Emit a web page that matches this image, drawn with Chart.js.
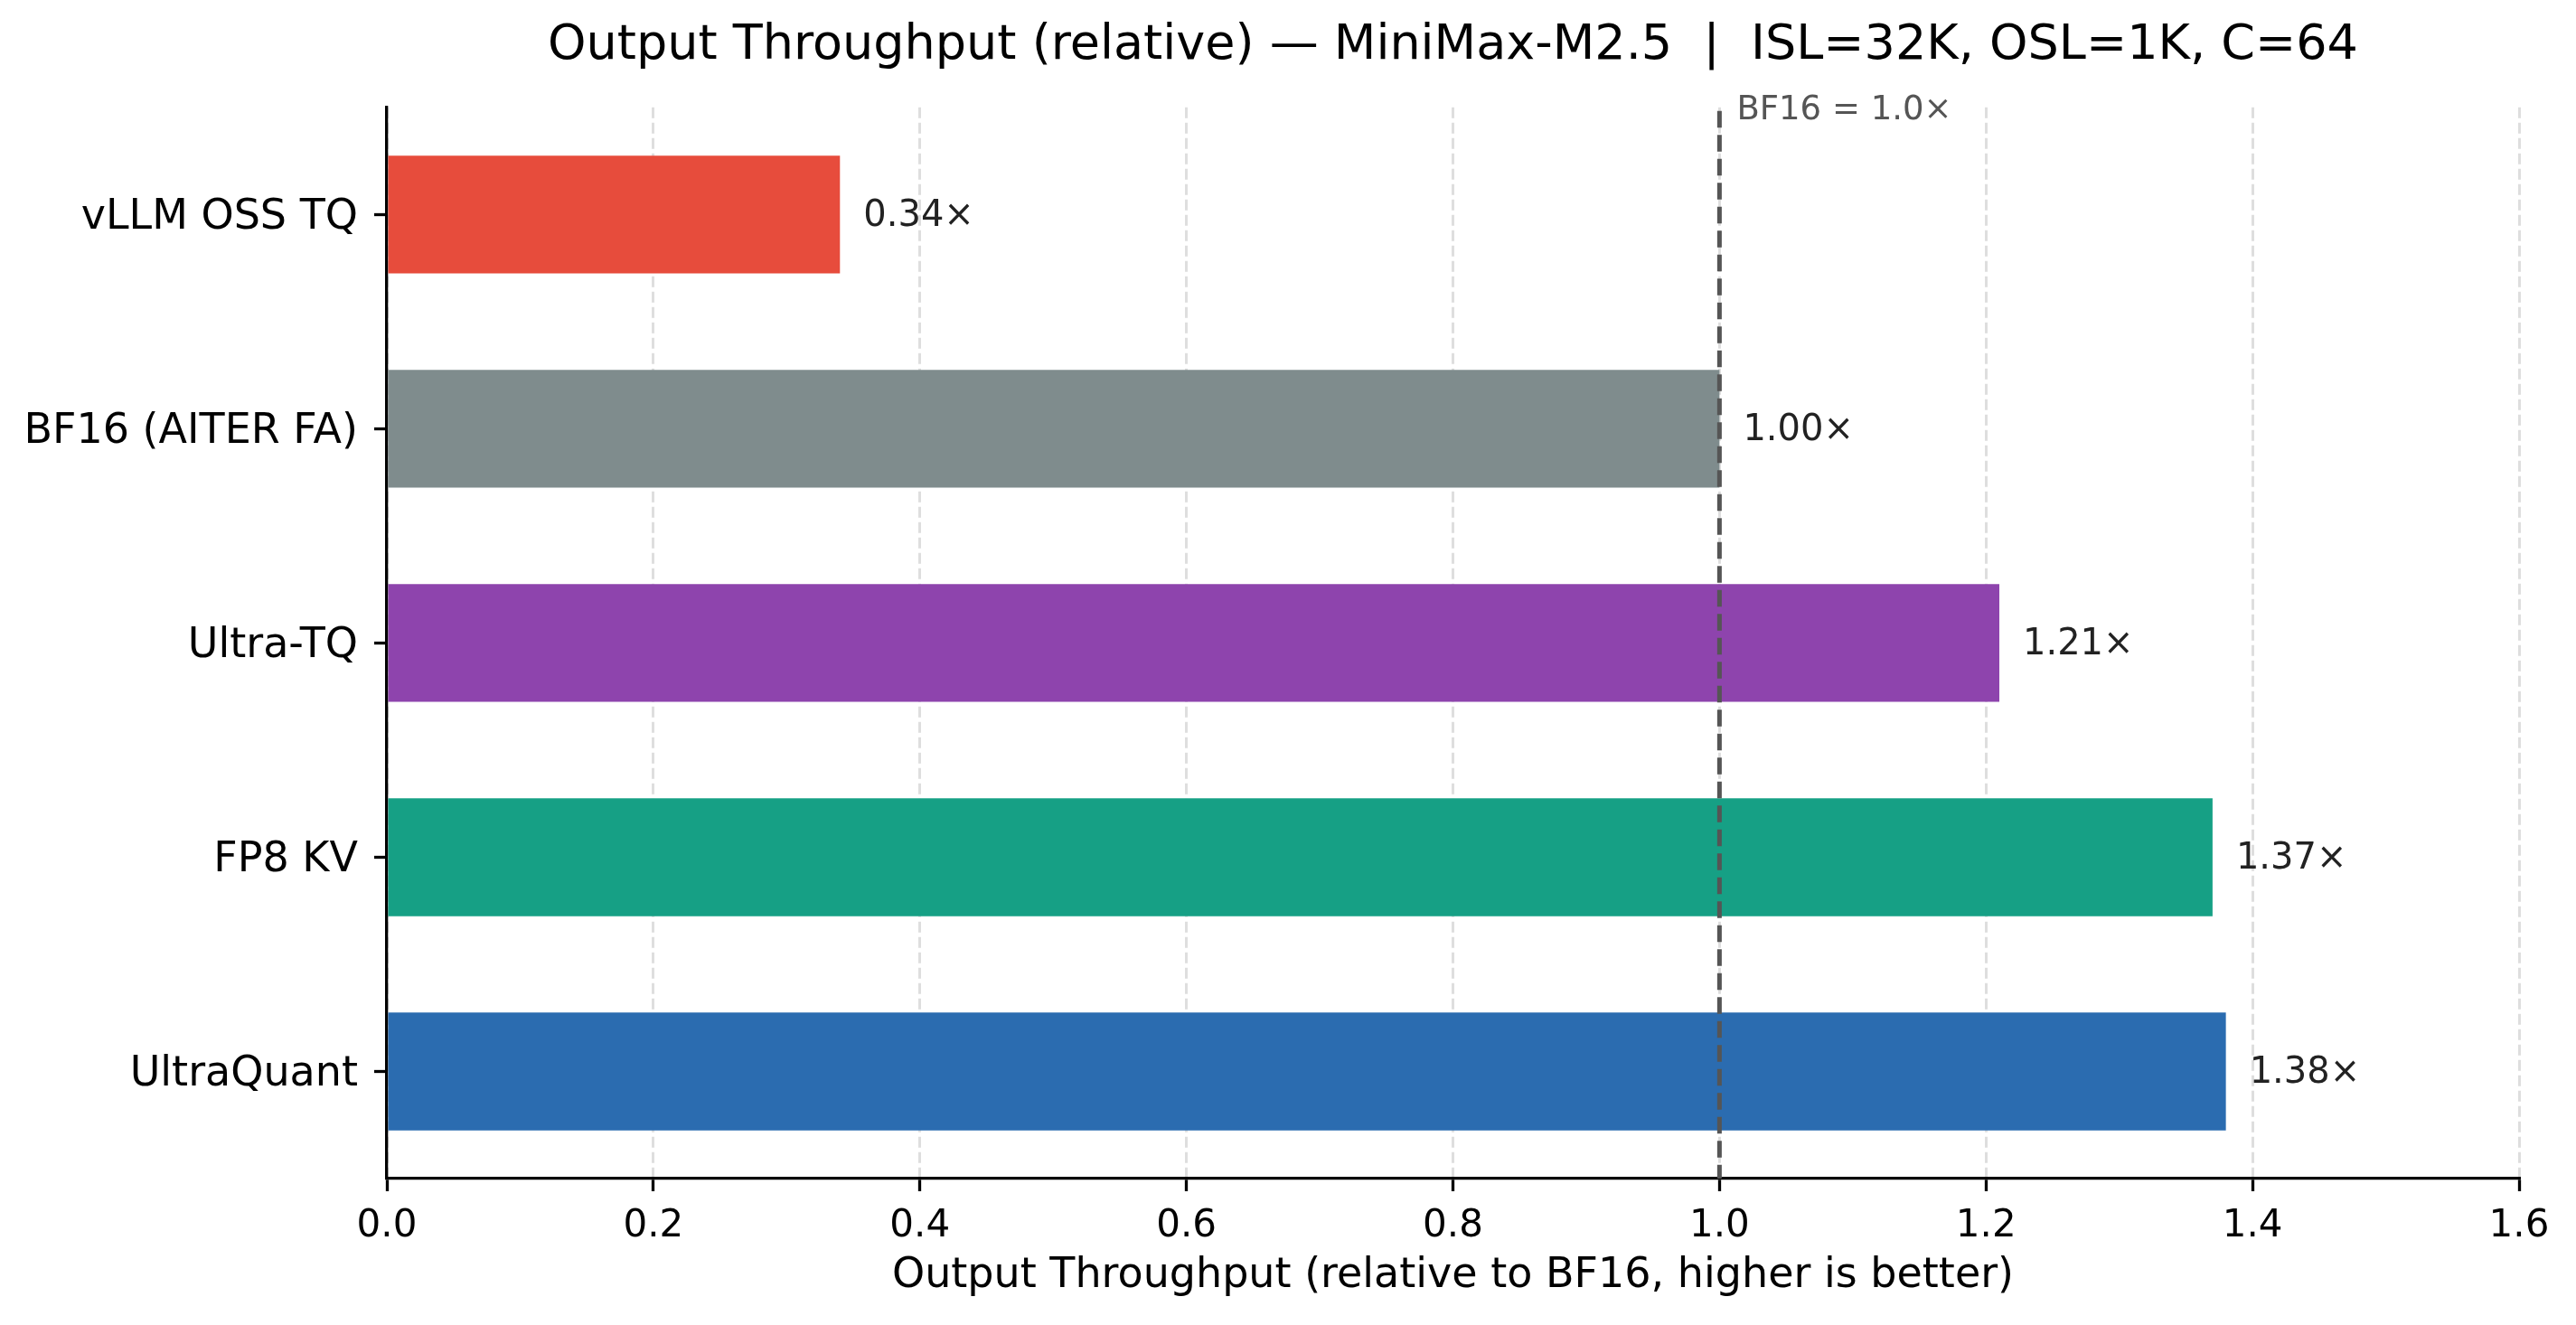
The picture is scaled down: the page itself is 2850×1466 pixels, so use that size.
<!DOCTYPE html>
<html>
<head>
<meta charset="utf-8">
<script src="https://cdn.jsdelivr.net/npm/chart.js@4.4.1/dist/chart.umd.min.js"></script>
<style>
  html, body { margin: 0; padding: 0; background: #fff; }
  canvas { display: block; }
</style>
</head>
<body>
<canvas id="chart" width="2850" height="1466"></canvas>
<script>
// data
const categories = ["vLLM OSS TQ", "BF16 (AITER FA)", "Ultra-TQ", "FP8 KV", "UltraQuant"];
const throughput = [0.34, 1.00, 1.21, 1.37, 1.38];
const barColors = ["#E74C3C", "#7F8C8D", "#8E44AD", "#16A085", "#2B6CB0"];
const xTicks = [0.0, 0.2, 0.4, 0.6, 0.8, 1.0, 1.2, 1.4, 1.6];
const baseline = 1.0;
const baselineLabel = "BF16 = 1.0×";

Chart.defaults.font.family = "'DejaVu Sans', sans-serif";
Chart.defaults.color = "#000";

// value labels at the bar ends + the dashed BF16 line
const annotations = {
    id: "annotations",
    afterDatasetsDraw(chart) {
        const ctx = chart.ctx;
        const area = chart.chartArea;
        const xs = chart.scales.x;

        const meta = chart.getDatasetMeta(0);
        ctx.save();
        ctx.font = "40px 'DejaVu Sans'";
        ctx.fillStyle = "#222";
        ctx.textAlign = "left";
        ctx.textBaseline = "middle";
        meta.data.forEach((bar, i) => {
            ctx.fillText(throughput[i].toFixed(2) + "×", bar.x + 26, bar.y + 2);
        });

        const bx = xs.getPixelForValue(baseline);
        ctx.strokeStyle = "#555";
        ctx.lineWidth = 5;
        ctx.setLineDash([18.5, 8]);
        ctx.beginPath();
        ctx.moveTo(bx, area.top + 4);
        ctx.lineTo(bx, area.bottom);
        ctx.stroke();

        ctx.setLineDash([]);
        ctx.font = "37px 'DejaVu Sans'";
        ctx.fillStyle = "#555";
        ctx.textBaseline = "alphabetic";
        ctx.fillText(baselineLabel, bx + 19, area.top + 13);
        ctx.restore();
    }
};

new Chart(document.getElementById("chart"), {
    type: "bar",
    data: {
        labels: categories,
        datasets: [{
            data: throughput,
            backgroundColor: barColors,
            borderWidth: 0,
            barPercentage: 0.55,
            categoryPercentage: 1.0
        }]
    },
    options: {
        indexAxis: "y",
        responsive: false,
        devicePixelRatio: 1,
        animation: false,
        layout: { padding: { left: 0, right: 63, top: 0, bottom: 0 } },
        plugins: {
            legend: { display: false },
            tooltip: { enabled: false },
            title: {
                display: true,
                fullSize: false,
                text: "Output Throughput (relative) — MiniMax-M2.5  |  ISL=32K, OSL=1K, C=64",
                color: "#000",
                font: { size: 54, weight: "normal" },
                padding: { top: 19, bottom: 35 }
            }
        },
        scales: {
            x: {
                min: 0,
                max: 1.6,
                afterBuildTicks: (scale) => { scale.ticks = xTicks.map(v => ({ value: v })); },
                afterFit: (scale) => { scale.height = 162; },
                ticks: {
                    callback: (v) => Number(v).toFixed(1),
                    font: { size: 42 },
                    color: "#000",
                    padding: 14,
                    maxRotation: 0
                },
                grid: {
                    color: "#dedede",
                    lineWidth: 3,
                    tickColor: "#000",
                    tickWidth: 3.3,
                    tickLength: 14
                },
                border: { display: true, color: "#000", width: 3.3, dash: [12, 5] },
                title: {
                    display: true,
                    text: "Output Throughput (relative to BF16, higher is better)",
                    font: { size: 46 },
                    color: "#000",
                    padding: { top: 26, bottom: 26 }
                }
            },
            y: {
                afterFit: (scale) => { scale.width = 428; },
                ticks: {
                    font: { size: 46 },
                    color: "#000",
                    padding: 18,
                    labelOffset: 4
                },
                grid: {
                    display: true,
                    drawOnChartArea: false,
                    offset: false,
                    tickColor: "#000",
                    tickWidth: 3.3,
                    tickLength: 14
                },
                border: { display: true, color: "#000", width: 3.3 }
            }
        }
    },
    plugins: [annotations]
});
</script>
</body>
</html>
